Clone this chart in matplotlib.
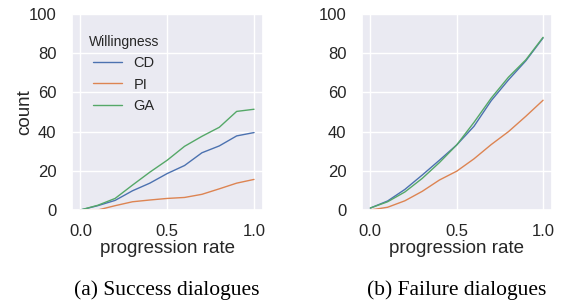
import matplotlib
matplotlib.use("Agg")
import matplotlib.pyplot as plt
import seaborn as sns

# progression rate and counts per willingness class
rate = [0.0, 0.1, 0.2, 0.3, 0.4, 0.5, 0.6, 0.7, 0.8, 0.9, 1.0]

success_cd = [0, 2.2, 4.9, 9.8, 13.7, 18.6, 22.7, 29.2, 32.7, 37.8, 39.5]
success_pi = [0, 0, 2.2, 4.2, 5.1, 5.9, 6.4, 8.0, 10.8, 13.7, 15.6]
success_ga = [0, 2.4, 5.9, 12.7, 19.3, 25.4, 32.5, 37.6, 42.2, 50.3, 51.4]

failure_cd = [1, 4.6, 10.5, 17.8, 25.4, 33.2, 42.7, 55.8, 66.4, 76.1, 87.8]
failure_pi = [0, 1.4, 4.7, 9.5, 15.3, 19.8, 26.1, 33.4, 40.0, 47.8, 56.0]
failure_ga = [1, 4.2, 9.2, 16.1, 24.2, 33.2, 44.7, 57.1, 67.8, 76.6, 88.1]

labels = ["CD", "PI", "GA"]
captions = ["(a) Success dialogues", "(b) Failure dialogues"]

sns.set_theme(style="darkgrid")
plt.rcParams['font.family'] = ['Liberation Sans', 'DejaVu Sans']
colors = sns.color_palette("deep")

fig = plt.figure(figsize=(5.61, 3.04), dpi=100)
ax1 = fig.add_axes([71.7 / 561, 1 - 210 / 304, 191 / 561, 196 / 304])
ax2 = fig.add_axes([361.7 / 561, 1 - 210 / 304, 190 / 561, 196 / 304])

data = [(success_cd, success_pi, success_ga), (failure_cd, failure_pi, failure_ga)]
for ax, series, cap in zip([ax1, ax2], data, captions):
    for vals, lab, c in zip(series, labels, colors):
        ax.plot(rate, vals, color=c, lw=1.0, label=lab)
    ax.set_ylim(0, 100)
    ax.set_xlim(-0.05, 1.05)
    ax.set_xticks([0.0, 0.5, 1.0])
    ax.set_yticks([0, 20, 40, 60, 80, 100])
    ax.tick_params(axis="y", labelsize=12, pad=5)
    ax.tick_params(axis="x", labelsize=12, pad=4)
    ax.set_xlabel("progression rate", fontsize=13.5, labelpad=1)
    ax.text(0.5, -0.41, cap, transform=ax.transAxes, ha="center", va="center",
            fontsize=15.5, family="Liberation Serif", color="black")

ax1.set_ylabel("count", fontsize=13.5, labelpad=-3)
leg = ax1.legend(title="Willingness", loc="upper left", frameon=False,
                 fontsize=10.5, title_fontsize=10, bbox_to_anchor=(0.02, 0.96))

fig.savefig("out.png", dpi=100)
